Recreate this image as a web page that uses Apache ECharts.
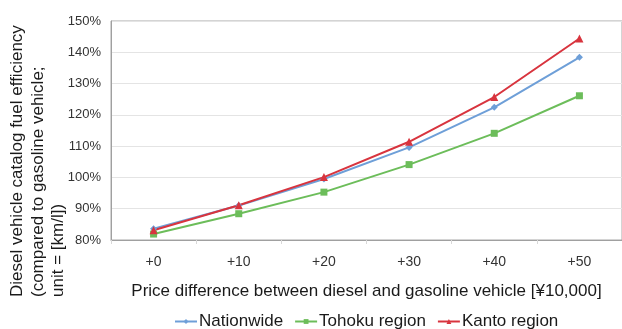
<!DOCTYPE html>
<html><head><meta charset="utf-8">
<script src="https://cdn.jsdelivr.net/npm/echarts@6/dist/echarts.min.js"></script>
<style>html,body{margin:0;padding:0;background:#fff}#c{width:622px;height:329px}</style>
</head><body><div id="c"></div>
<script>
var categories = ['+0','+10','+20','+30','+40','+50'];
var nationwide = [83.6, 91.0, 99.5, 109.6, 122.4, 138.4];
var tohoku = [81.9, 88.4, 95.3, 104.1, 114.1, 126.1];
var kanto = [83.1, 91.1, 100.1, 111.4, 125.7, 144.4];
var yTicks = [80, 90, 100, 110, 120, 130, 140, 150];
var yTitleLines = ['Diesel vehicle catalog fuel efficiency', '(compared to gasoline vehicle;', 'unit = [km/l])'];
var xTitle = 'Price difference between diesel and gasoline vehicle [¥10,000]';

var font = 'Liberation Sans, Arial, sans-serif';
var chart = echarts.init(document.getElementById('c'));
var graphics = yTitleLines.map(function(t, i){
  return {type:'text', x: 26 + i*20.5, y: 297, rotation: Math.PI/2,
    style:{text:t, font:'17px ' + font, fill:'#1a1a1a', textAlign:'left', textVerticalAlign:'bottom'}};
});
chart.setOption({
  animation:false,
  grid:{left:111, top:21, bottom:89, right:-5, show:true, borderColor:'#a8a8a8', borderWidth:1},
  graphic: graphics,
  legend:{top:313, left:174, padding:0, itemWidth:22, itemHeight:6, itemGap:11,
    textStyle:{fontFamily:font, fontSize:17, color:'#1a1a1a', padding:[0,0,0,-3]}},
  xAxis:{type:'category', data:categories, boundaryGap:true,
    name:xTitle, nameLocation:'middle', nameGap:43,
    nameTextStyle:{fontFamily:font, fontSize:17, color:'#1a1a1a'},
    axisLine:{lineStyle:{color:'#a0a0a0'}},
    axisTick:{show:true, length:4, lineStyle:{color:'#d8d8d8'}},
    axisLabel:{fontFamily:font, fontSize:14, color:'#333', margin:15}},
  yAxis:{type:'value', min:yTicks[0], max:yTicks[yTicks.length-1], interval:10,
    axisLine:{show:true, lineStyle:{color:'#a0a0a0'}},
    axisTick:{show:false},
    splitLine:{lineStyle:{color:'#e4e4e4'}},
    axisLabel:{fontFamily:font, fontSize:13, color:'#333', margin:10, formatter:'{value}%'}},
  series:[
    {name:'Nationwide', type:'line', data:nationwide, symbol:'diamond', symbolSize:7,
      color:'#6e9fd8', lineStyle:{width:2}},
    {name:'Tohoku region', type:'line', data:tohoku, symbol:'rect', symbolSize:7,
      color:'#6cbd5a', lineStyle:{width:2}},
    {name:'Kanto region', type:'line', data:kanto, symbol:'triangle', symbolSize:8,
      color:'#d8343e', lineStyle:{width:2}}
  ]
});
</script></body></html>
